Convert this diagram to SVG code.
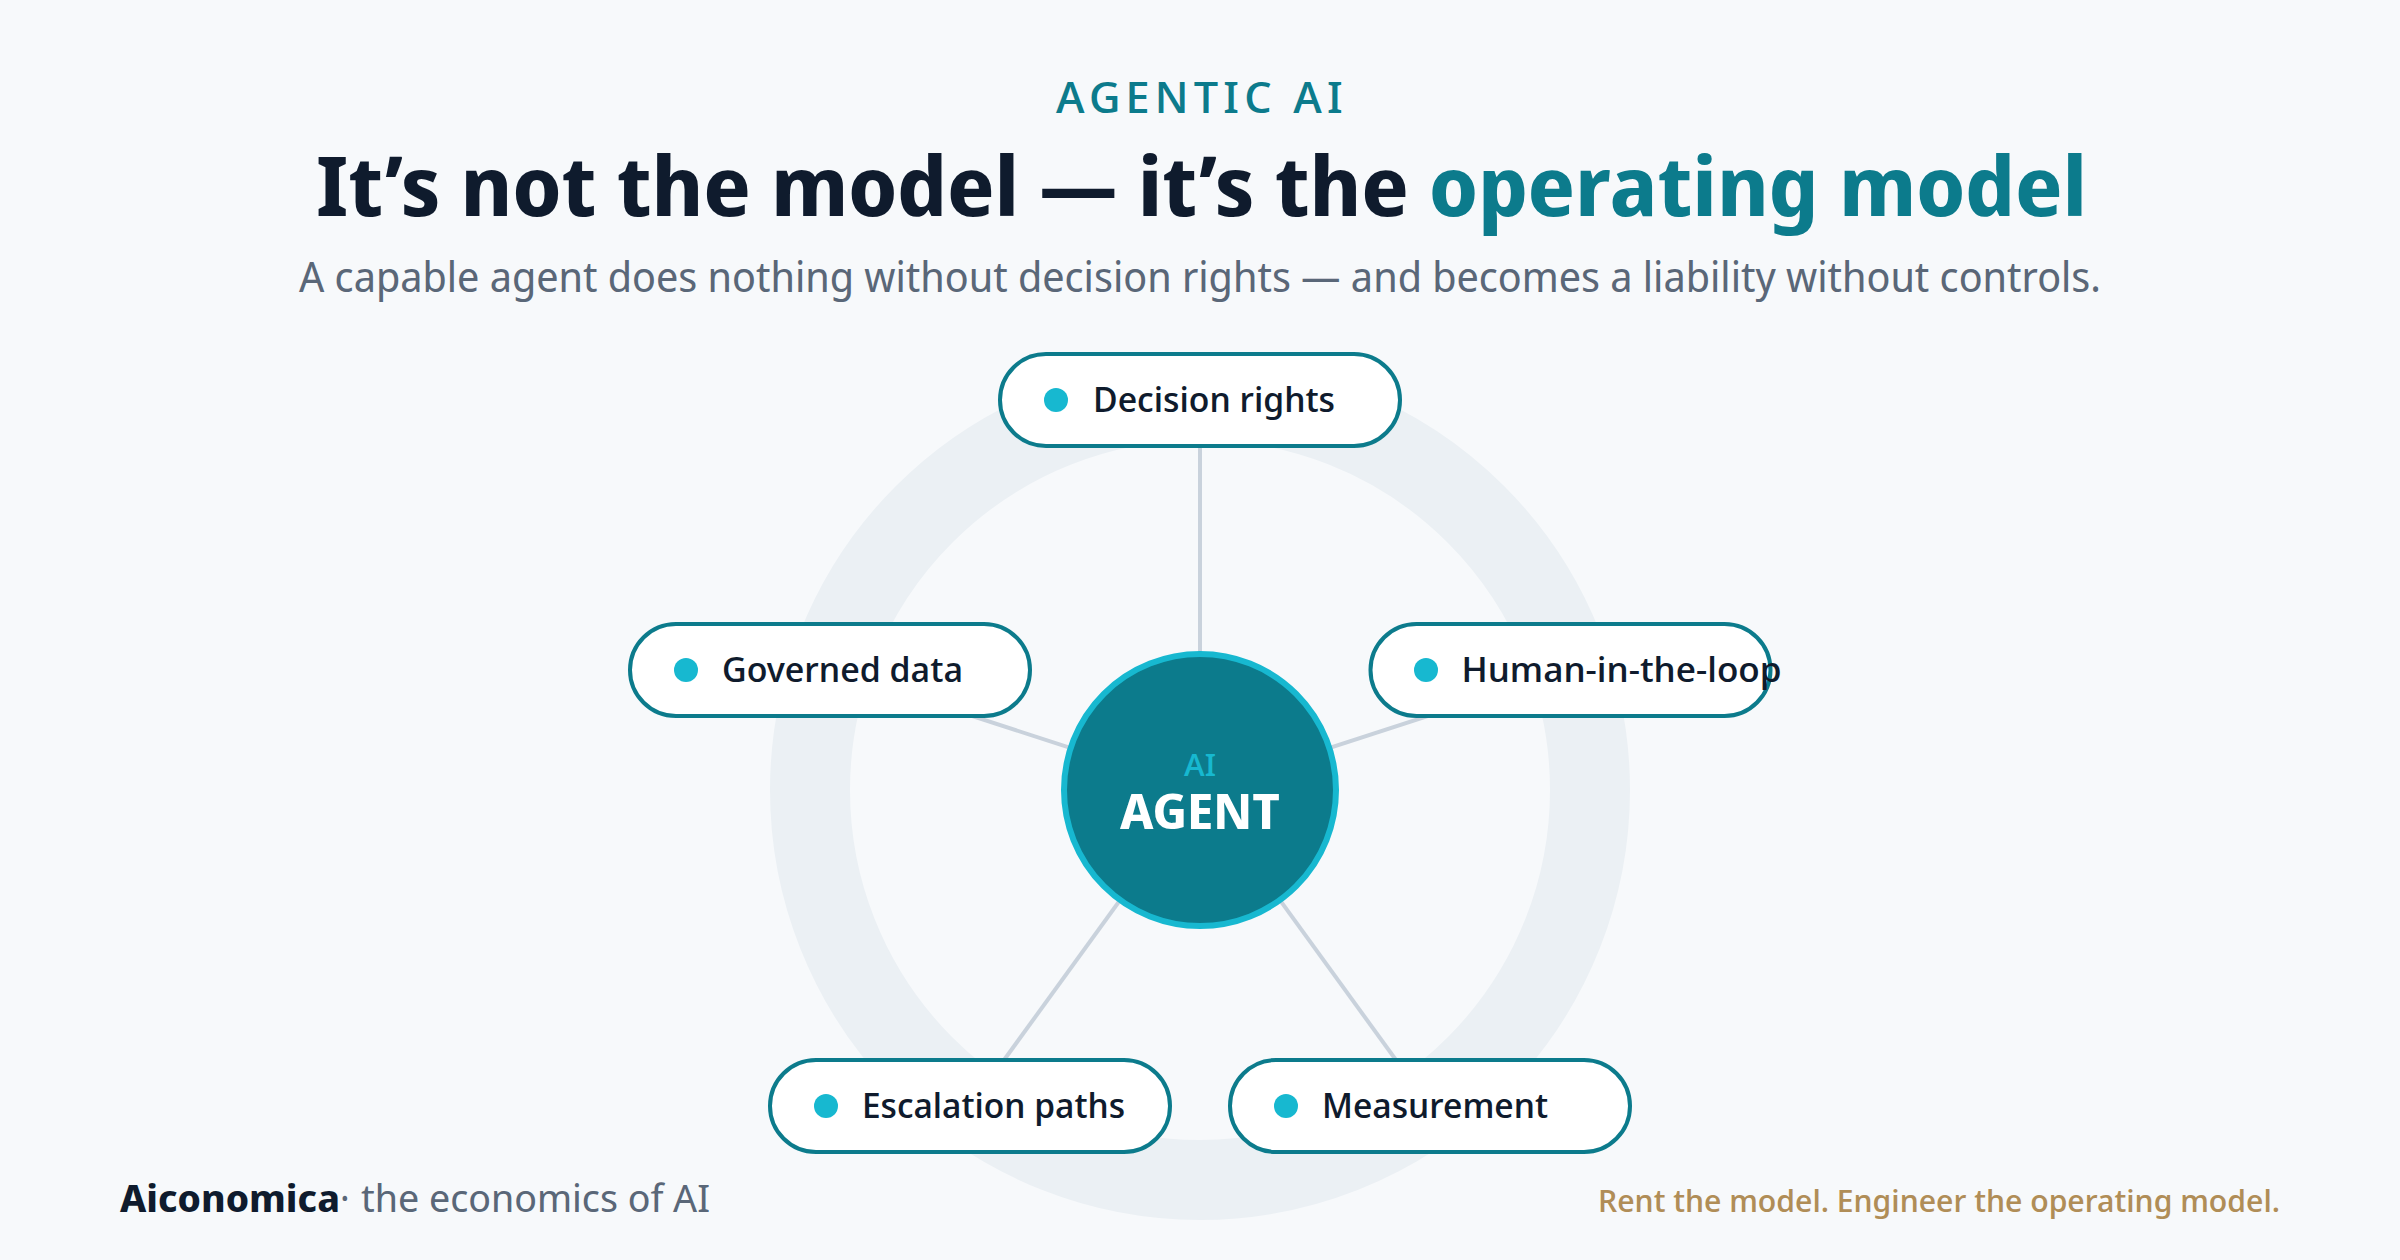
<svg xmlns="http://www.w3.org/2000/svg" width="2400" height="1260" viewBox="0 0 2400 1260">
<style>
text{font-family:"Noto Sans Display","Noto Sans",sans-serif}
.pill{fill:#fff;stroke:#0c7b8c;stroke-width:4}
.dot{fill:#17b8d0}
.lbl{font-size:34px;font-weight:500;fill:#0f1b2d}
.conn{stroke:#c9d2dc;stroke-width:4;fill:none}
</style>
<rect width="2400" height="1260" fill="#f7f9fb"/>
<text x="1056" y="113" font-size="44" letter-spacing="5" font-weight="500" fill="#0c7b8c" textLength="292" lengthAdjust="spacingAndGlyphs">AGENTIC AI</text>
<text x="316" y="216" font-size="83" font-weight="700" fill="#0f1b2d" textLength="1771" lengthAdjust="spacingAndGlyphs">It’s not the model — it’s the <tspan fill="#0c7b8c">operating model</tspan></text>
<text x="299" y="292" font-size="42" fill="#5a6778" textLength="1802" lengthAdjust="spacingAndGlyphs">A capable agent does nothing without decision rights — and becomes a liability without controls.</text>
<circle id="ring" cx="1200" cy="790" r="390" fill="none" stroke="#ebf0f4" stroke-width="80"/>
<g id="connectors">
<line class="conn" x1="1200" y1="790" x2="1200" y2="400"/>
<line class="conn" x1="1200" y1="790" x2="1571" y2="669.5"/>
<line class="conn" x1="1200" y1="790" x2="1429" y2="1105.5"/>
<line class="conn" x1="1200" y1="790" x2="971" y2="1105.5"/>
<line class="conn" x1="1200" y1="790" x2="829" y2="669.5"/>
</g>
<g id="node-agent">
<circle cx="1200" cy="790" r="136" fill="#0c7b8c" stroke="#17b8d0" stroke-width="6"/>
<text x="1184" y="776" font-size="31" font-weight="500" fill="#17b8d0" textLength="32" lengthAdjust="spacingAndGlyphs">AI</text>
<text x="1200" y="829" text-anchor="middle" font-size="48" font-weight="700" fill="#fff" textLength="160" lengthAdjust="spacingAndGlyphs">AGENT</text>
</g>
<g id="node-decision"><rect class="pill" x="1000" y="354" width="400" height="92" rx="46"/><circle class="dot" cx="1056" cy="400" r="12"/><text class="lbl" x="1093" y="412" textLength="242" lengthAdjust="spacingAndGlyphs">Decision rights</text></g>
<g id="node-human"><rect class="pill" x="1370.5" y="624" width="400" height="92" rx="46"/><circle class="dot" cx="1426" cy="670" r="12"/><text class="lbl" x="1461.5" y="681.5" textLength="320" lengthAdjust="spacingAndGlyphs">Human-in-the-loop</text></g>
<g id="node-measurement"><rect class="pill" x="1230" y="1060" width="400" height="92" rx="46"/><circle class="dot" cx="1286" cy="1106" r="12"/><text class="lbl" x="1322" y="1117.5" textLength="226" lengthAdjust="spacingAndGlyphs">Measurement</text></g>
<g id="node-escalation"><rect class="pill" x="770" y="1060" width="400" height="92" rx="46"/><circle class="dot" cx="826" cy="1106" r="12"/><text class="lbl" x="862" y="1117.5" textLength="263" lengthAdjust="spacingAndGlyphs">Escalation paths</text></g>
<g id="node-governed"><rect class="pill" x="630" y="624" width="400" height="92" rx="46"/><circle class="dot" cx="686" cy="670" r="12"/><text class="lbl" x="722" y="681.5" textLength="241" lengthAdjust="spacingAndGlyphs">Governed data</text></g>
<text x="120" y="1212" font-size="38" font-weight="700" fill="#0f1b2d" textLength="220" lengthAdjust="spacingAndGlyphs">Aiconomica</text>
<text x="340" y="1212" font-size="38" fill="#5a6778">·</text>
<text x="361" y="1212" font-size="38" fill="#5a6778" textLength="349" lengthAdjust="spacingAndGlyphs">the economics of AI</text>
<text x="1598" y="1212" font-size="31" font-weight="500" fill="#b08d57" textLength="682" lengthAdjust="spacingAndGlyphs">Rent the model. Engineer the operating model.</text>
</svg>
